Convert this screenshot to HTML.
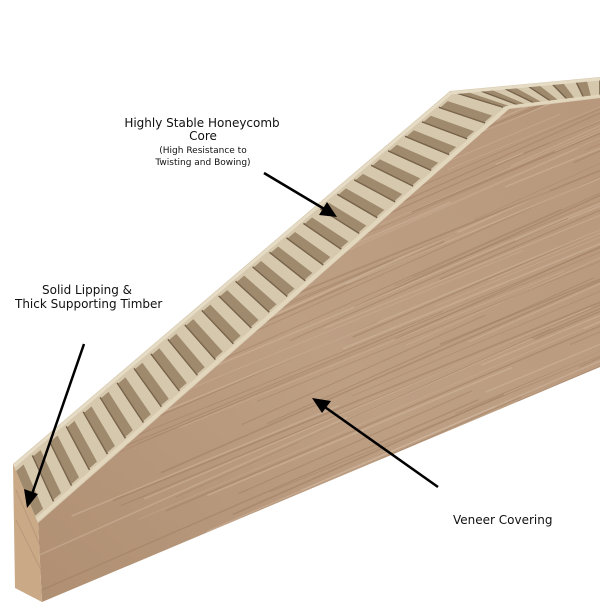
<!DOCTYPE html>
<html><head><meta charset="utf-8"><style>
html,body{margin:0;padding:0;background:#fff;}
svg{display:block}
text{font-family:"DejaVu Sans","Liberation Sans",sans-serif;fill:#111}
</style></head><body>
<svg id="s" width="600" height="606" viewBox="0 0 600 606" xmlns="http://www.w3.org/2000/svg">
<defs>
<linearGradient id="ven" x1="0" y1="1" x2="1" y2="0">
<stop offset="0" stop-color="#b08f72"/>
<stop offset="0.5" stop-color="#bd9f84"/>
<stop offset="1" stop-color="#b8987c"/>
</linearGradient>
<clipPath id="vc"><polygon points="38,523 509,109 600,98 600,367 42,602"/></clipPath>
</defs>
<!-- honeycomb strip -->
<polygon points="13,464 450,91 600,77 600,98 509,109 38,523" fill="#d6c8ad"/>
<g id="cells"></g>
<line x1="14" y1="466" x2="451" y2="93" stroke="#e6dcc6" stroke-width="3"/>
<line x1="451" y1="93" x2="600" y2="79" stroke="#e6dcc6" stroke-width="3"/>
<line x1="37" y1="520" x2="508" y2="107" stroke="#e2d6bd" stroke-width="4"/>
<line x1="508" y1="107" x2="600" y2="96" stroke="#e2d6bd" stroke-width="3"/>
<!-- veneer face -->
<polygon points="38,523 509,109 600,98 600,367 42,602" fill="url(#ven)"/>
<g id="grain" clip-path="url(#vc)"></g>
<!-- lipping end -->
<polygon points="13,464 38,523 42,602 15,588" fill="#caa987"/>
<g stroke="#a8866a" stroke-width="1" opacity="0.5">
<line x1="16" y1="490" x2="40" y2="545"/><line x1="16" y1="520" x2="41" y2="570"/>
</g>
<!-- arrows -->
<g stroke="#000" stroke-width="2.5">
<line x1="264" y1="173" x2="326" y2="210"/>
<line x1="84" y1="344" x2="31" y2="497"/>
<line x1="438" y1="487" x2="322" y2="405"/>
</g>
<g fill="#000">
<polygon points="337,217 319,215 327,202"/>
<polygon points="27,508 24,489 38,494"/>
<polygon points="312,398 331,401 322,413"/>
</g>
<text x="202" y="127" font-size="12" text-anchor="middle">Highly Stable Honeycomb</text>
<text x="203" y="140" font-size="12" text-anchor="middle">Core</text>
<text x="203" y="153" font-size="9" text-anchor="middle">(High Resistance to</text>
<text x="203" y="165" font-size="9" text-anchor="middle">Twisting and Bowing)</text>
<text x="42" y="294" font-size="12">Solid Lipping &amp;</text>
<text x="15" y="308" font-size="12">Thick Supporting Timber</text>
<text x="453" y="524" font-size="12">Veneer Covering</text>
</svg>
<script>
var NS="http://www.w3.org/2000/svg";
function el(p,n,a){var e=document.createElementNS(NS,n);for(var k in a)e.setAttribute(k,a[k]);p.appendChild(e);return e;}
var cells=document.getElementById('cells');
function seg(O0,O1,I0,I1,N){
 for(var i=0;i<N;i++){
  var t0=i/N,t1=(i+0.45)/N,t2=(i+1)/N;
  function L(A,B,t){return [A[0]+(B[0]-A[0])*t,A[1]+(B[1]-A[1])*t];}
  var a=L(O0,O1,t0),b=L(O0,O1,t1),c=L(I0,I1,t1),d=L(I0,I1,t0);
  // shrink toward interior
  function mix(P,Q,f){return [P[0]+(Q[0]-P[0])*f,P[1]+(Q[1]-P[1])*f];}
  var a2=mix(a,d,0.12),b2=mix(b,c,0.12),c2=mix(c,b,0.12),d2=mix(d,a,0.12);
  el(cells,'polygon',{points:[a2,b2,c2,d2].map(function(p){return p.join(',')}).join(' '),fill:'#8c7558',opacity:0.75});
  var e=L(O0,O1,t2),f=L(I0,I1,t2);
  el(cells,'line',{x1:mix(e,f,0.1)[0],y1:mix(e,f,0.1)[1],x2:mix(f,e,0.1)[0],y2:mix(f,e,0.1)[1],stroke:'#6e5a44','stroke-width':1.5});
 }
}
seg([13,464],[450,91],[38,523],[509,109],26);
seg([450,91],[600,77],[509,109],[600,98],6);
var g=document.getElementById('grain');
var seed=7;function r(){seed=(seed*9301+49297)%233280;return seed/233280;}
for(var i=0;i<140;i++){
 var y0=100+r()*520, x0=0;
 var len=200+r()*500, sx=r()*600;
 var slope=-0.43+(r()-0.5)*0.05;
 var col=r()<0.5?'#9c7a5e':'#d4bca4';
 el(g,'line',{x1:sx,y1:y0,x2:sx+len,y2:y0+slope*len,stroke:col,'stroke-width':0.6+r()*1.2,opacity:0.45});
}
</script>
</body></html>
